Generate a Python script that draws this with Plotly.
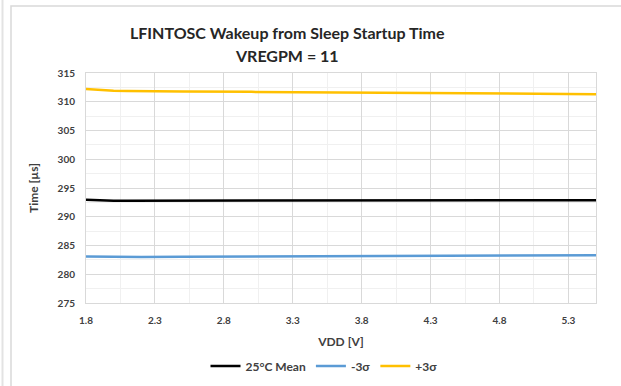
import plotly.graph_objects as go

vdd = [1.8, 1.9, 2.0, 2.1, 2.2, 2.5, 3.0, 3.5, 4.0, 4.5, 5.0, 5.5]
mean_25c = [292.95, 292.85, 292.8, 292.8, 292.8, 292.8, 292.8, 292.82, 292.85, 292.85, 292.87, 292.88]
minus_3s = [283.1, 283.05, 283.0, 283.0, 283.0, 283.05, 283.08, 283.12, 283.18, 283.22, 283.28, 283.32]
plus_3s = [312.2, 312.0, 311.9, 311.85, 311.8, 311.78, 311.72, 311.65, 311.55, 311.48, 311.38, 311.32]

x_ticks = [1.8, 2.3, 2.8, 3.3, 3.8, 4.3, 4.8, 5.3]
y_ticks = [275, 280, 285, 290, 295, 300, 305, 310, 315]

title_lines = ["LFINTOSC Wakeup from Sleep Startup Time", "VREGPM = 11"]

FONT = "Lato"
W, H = 621, 386
L, R, T, B = 86, 596, 73, 303

def px(x):
    return (x - L) / (R - L)

def py(y):
    return (B - y) / (B - T)

fig = go.Figure()
fig.add_trace(go.Scatter(x=vdd, y=mean_25c, mode="lines", name="<b>25°C Mean</b>",
                         line=dict(color="#000000", width=2.5)))
fig.add_trace(go.Scatter(x=vdd, y=minus_3s, mode="lines", name="<b>-3σ</b>",
                         line=dict(color="#5B9BD5", width=2.5)))
fig.add_trace(go.Scatter(x=vdd, y=plus_3s, mode="lines", name="<b>+3σ</b>",
                         line=dict(color="#FFC000", width=2.5)))

fig.update_layout(
    width=W, height=H,
    margin=dict(l=L, r=W - R, t=T, b=H - B, autoexpand=False),
    paper_bgcolor="white", plot_bgcolor="white",
    font=dict(family=FONT, color="#404040"),
    xaxis=dict(range=[1.8, 5.5], tickmode="array", tickvals=x_ticks,
               ticktext=[f"<b>{v}</b>" for v in x_ticks],
               tickfont=dict(size=10, color="#404040"),
               showgrid=True, gridcolor="#d9d9d9", gridwidth=1,
               minor=dict(dtick=0.25, tick0=1.8, showgrid=True, gridcolor="#f0f0f0"),
               showline=True, mirror=True, linecolor="#d9d9d9", linewidth=1,
               zeroline=False, ticks="", ticklabelstandoff=8,
               title=dict(text="<b>VDD [V]</b>", font=dict(size=12, color="#404040"),
                          standoff=12)),
    yaxis=dict(range=[275, 315], tickmode="array", tickvals=y_ticks,
               ticktext=[f"<b>{v}</b>" for v in y_ticks],
               tickfont=dict(size=10, color="#404040"),
               showgrid=True, gridcolor="#d9d9d9", gridwidth=1,
               minor=dict(dtick=2.5, tick0=275, showgrid=True, gridcolor="#f0f0f0"),
               showline=True, mirror=True, linecolor="#d9d9d9", linewidth=1,
               zeroline=False, ticks="", ticklabelstandoff=8,
               title=dict(text="<b>Time [µs]</b>", font=dict(size=12, color="#404040"),
                          standoff=16)),
    legend=dict(orientation="h", x=px(324), xanchor="center",
                y=py(366), yanchor="middle",
                font=dict(size=12, color="#404040", family=FONT),
                bgcolor="rgba(0,0,0,0)", itemwidth=30),
    showlegend=True,
)

for text, ypix in zip(title_lines, [33, 55]):
    fig.add_annotation(text=f"<b>{text}</b>", xref="paper", yref="paper",
                       x=px(287), y=py(ypix), xanchor="center", yanchor="middle",
                       showarrow=False, font=dict(family=FONT, size=16, color="#262626"))

# chart frame
fig.add_shape(type="rect", xref="paper", yref="paper",
              x0=px(11), x1=px(630), y0=py(400), y1=py(6),
              line=dict(color="#d9d9d9", width=1.5), layer="below")
fig.add_shape(type="line", xref="paper", yref="paper",
              x0=px(2.5), x1=px(2.5), y0=py(400), y1=py(-10),
              line=dict(color="#e3e3e3", width=2), layer="below")

fig.write_html("out.html", config={"displayModeBar": False})

with open("out.html", "r", encoding="utf-8") as f:
    html = f.read()
html = html.replace("<head>", "<head><style>html,body{margin:0;padding:0;overflow:hidden;}</style>", 1)
with open("out.html", "w", encoding="utf-8") as f:
    f.write(html)
